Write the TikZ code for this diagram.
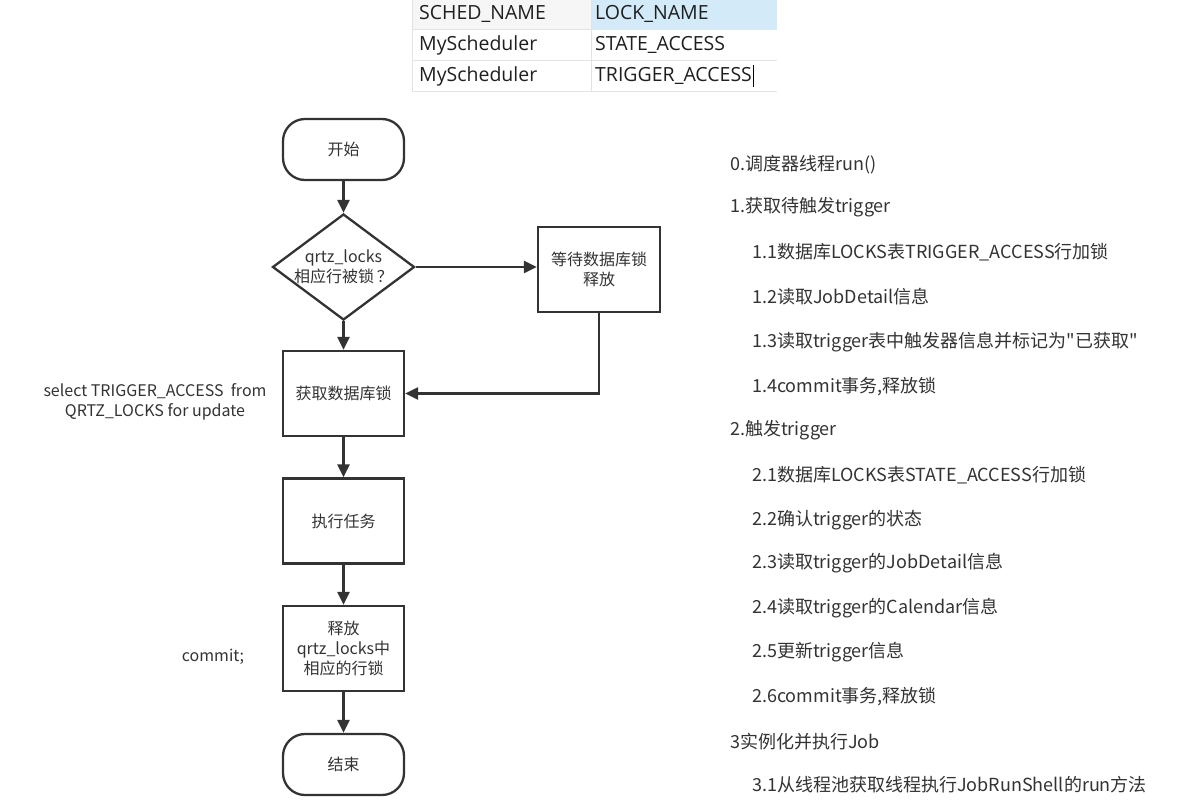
\documentclass[tikz,border=0pt]{standalone}
\usepackage{fontspec}
\setmainfont{Noto Sans CJK SC}
\newfontfamily\qfont{Noto Sans CJK SC}[Ligatures=TeXOff]
\newfontfamily\tabfont{Open Sans}
\usetikzlibrary{shapes.geometric,arrows.meta}
\definecolor{linec}{HTML}{333333}
\definecolor{txtc}{HTML}{333333}
\definecolor{gridc}{HTML}{E3E3E3}
\definecolor{headc}{HTML}{F6F6F6}
\definecolor{selc}{HTML}{D3EAF8}
\begin{document}
\begin{tikzpicture}[x=1pt,y=-1pt,
  conn/.style={draw=linec, line width=2.3pt, -{Triangle[length=13pt,width=12pt]}},
  box/.style={draw=linec, line width=2.3pt, minimum width=121pt, minimum height=85pt,
    align=center, font=\fontsize{16}{20}\selectfont, text=txtc, inner sep=2pt},
  term/.style={box, rounded corners=22pt, minimum height=61pt},
  dia/.style={draw=linec, line width=2.3pt, diamond, minimum width=142pt, minimum height=106pt, inner sep=0pt},
  note/.style={align=center, font=\fontsize{16}{20}\selectfont, text=txtc, inner sep=0pt},
  item/.style={anchor=west, font=\fontsize{18}{21}\selectfont, text=txtc, inner sep=0pt},
  cell/.style={anchor=west, font=\tabfont\fontsize{19.5}{22}\selectfont, text=black!88, inner sep=0pt}
]
\useasboundingbox[fill=white] (0,0) rectangle (1196,807);

% ---- table ----
\fill[headc] (412,0) rectangle (591,29);
\fill[selc] (591,0) rectangle (777,29);
\draw[gridc, line width=0.8pt] (412,29) -- (777,29);
\draw[gridc, line width=0.8pt] (412,60) -- (777,60);
\draw[gridc, line width=0.8pt] (412,91) -- (777,91);
\draw[gridc, line width=0.8pt] (412,0) -- (412,91);
\draw[gridc, line width=0.8pt] (591,0) -- (591,91);
\node[cell] (h1) at (419,14) {SCHED\_NAME};
\node[cell] (h2) at (595,14) {LOCK\_NAME};
\node[cell] (r1a) at (419,45) {MyScheduler};
\node[cell] (r1b) at (595,45) {STATE\_ACCESS};
\node[cell] (r2a) at (419,76) {MyScheduler};
\node[cell] (r2b) at (595,76) {TRIGGER\_ACCESS};
\draw[black, line width=1pt] (r2b.east) ++(1.5,-11) -- ++(0,22);

% ---- flowchart ----
\node[term] (start) at (343.5,149.5) {开始};
\node[dia] (dec) at (343.5,267) {};
\node[note] (dect) at (343.5,267) {qrtz\_locks\\相应行被锁\,？};
\node[box, minimum width=122pt] (wait) at (599,269.5) {等待数据库锁\\释放};
\node[box] (get) at (343.5,393.5) {获取数据库锁};
\node[box] (exec) at (343.5,521) {执行任务};
\node[box] (rel) at (343.5,648.5) {释放\\qrtz\_locks中\\相应的行锁};
\node[term] (end) at (343.5,764.5) {结束};

\draw[conn] (start) -- (dec);
\draw[conn] (dec.east) -- (dec.east -| wait.west);
\draw[conn] (dec) -- (get);
\draw[conn] (wait.south) |- (get.east);
\draw[conn] (get) -- (exec);
\draw[conn] (exec) -- (rel);
\draw[conn] (rel) -- (end);

\node[note] (sql) at (155,402) {select TRIGGER\_ACCESS\ \ from\\QRTZ\_LOCKS for update};
\node[note] (cmt) at (213,657) {commit;};

% ---- steps list ----
\node[item] (s0) at (730,165) {0.调度器线程run()};
\node[item] (s1) at (730,207) {1.获取待触发trigger};
\node[item] (s11) at (752,252) {1.1数据库LOCKS表TRIGGER\_ACCESS行加锁};
\node[item] (s12) at (752,297) {1.2读取JobDetail信息};
\node[item] (s13) at (752,342) {1.3读取trigger表中触发器信息并标记为{\qfont"}已获取{\qfont"}};
\node[item] (s14) at (752,387) {1.4commit事务,释放锁};
\node[item] (s2) at (730,430) {2.触发trigger};
\node[item] (s21) at (752,475) {2.1数据库LOCKS表STATE\_ACCESS行加锁};
\node[item] (s22) at (752,520) {2.2确认trigger的状态};
\node[item] (s23) at (752,563) {2.3读取trigger的JobDetail信息};
\node[item] (s24) at (752,608) {2.4读取trigger的Calendar信息};
\node[item] (s25) at (752,652) {2.5更新trigger信息};
\node[item] (s26) at (752,697) {2.6commit事务,释放锁};
\node[item] (s3) at (730,742) {3实例化并执行Job};
\node[item] (s31) at (752,785) {3.1从线程池获取线程执行JobRunShell的run方法};
\end{tikzpicture}
\end{document}
